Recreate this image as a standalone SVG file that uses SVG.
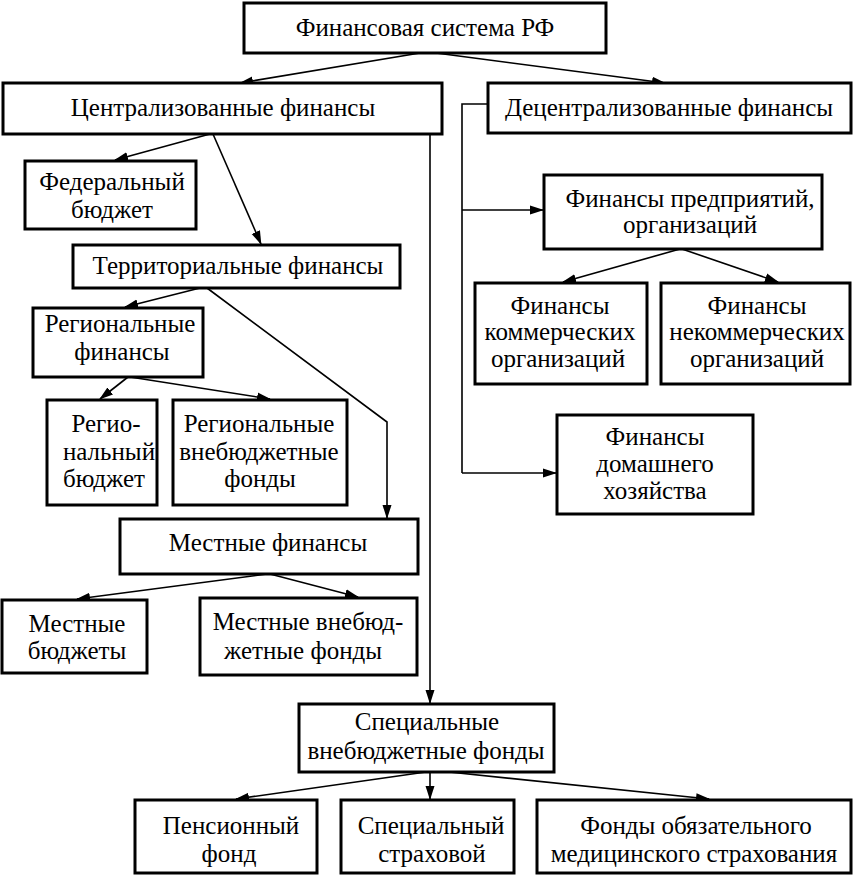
<svg xmlns="http://www.w3.org/2000/svg" width="854" height="876" viewBox="0 0 854 876">
<style>
.box{fill:#fff;stroke:#000;stroke-width:3}
.t{font-family:'Liberation Serif','DejaVu Serif',serif;font-size:25px;fill:#000;text-anchor:middle}
.c{fill:none;stroke:#000;stroke-width:1.6}
</style>
<defs>
<marker id="ah" markerWidth="14" markerHeight="10" refX="13" refY="5" orient="auto" markerUnits="userSpaceOnUse">
<path d="M0,0.5 L14,5 L0,9.5 z" fill="#000"/>
</marker>
</defs>
<rect width="854" height="876" fill="#fff"/>
<g id="connectors">
<line class="c" x1="420" y1="53" x2="240" y2="83" marker-end="url(#ah)"/>
<line class="c" x1="436" y1="53" x2="665" y2="83" marker-end="url(#ah)"/>
<line class="c" x1="430" y1="134" x2="430" y2="703" marker-end="url(#ah)"/>
<polyline class="c" points="488,104 462,104 462,473"/>
<line class="c" x1="462" y1="210" x2="543" y2="210" marker-end="url(#ah)"/>
<line class="c" x1="462" y1="473" x2="556" y2="473" marker-end="url(#ah)"/>
<line class="c" x1="210" y1="134" x2="115" y2="160" marker-end="url(#ah)"/>
<line class="c" x1="213" y1="134" x2="261" y2="244" marker-end="url(#ah)"/>
<line class="c" x1="200" y1="288" x2="125" y2="307" marker-end="url(#ah)"/>
<polyline class="c" points="207,288 387,422 387,518" marker-end="url(#ah)"/>
<line class="c" x1="128" y1="377" x2="100" y2="399" marker-end="url(#ah)"/>
<line class="c" x1="130" y1="377" x2="270" y2="399" marker-end="url(#ah)"/>
<line class="c" x1="267" y1="574" x2="77" y2="599" marker-end="url(#ah)"/>
<line class="c" x1="270" y1="574" x2="358" y2="597" marker-end="url(#ah)"/>
<line class="c" x1="680" y1="249" x2="563" y2="282" marker-end="url(#ah)"/>
<line class="c" x1="682" y1="249" x2="778" y2="282" marker-end="url(#ah)"/>
<line class="c" x1="426" y1="772" x2="236" y2="799" marker-end="url(#ah)"/>
<line class="c" x1="430" y1="772" x2="430" y2="799" marker-end="url(#ah)"/>
<line class="c" x1="449" y1="772" x2="709" y2="799" marker-end="url(#ah)"/>
</g>
<g id="n-top"><rect class="box" x="244" y="3" width="362" height="50"/><text class="t" x="425" y="36">Финансовая система РФ</text></g>
<g id="n-central"><rect class="box" x="3" y="83" width="439" height="51"/><text class="t" x="223" y="116">Централизованные финансы</text></g>
<g id="n-decentral"><rect class="box" x="488" y="83" width="363" height="50"/><text class="t" x="669" y="116">Децентрализованные финансы</text></g>
<g id="n-federal"><rect class="box" x="25" y="161" width="171" height="68"/><text class="t" x="112" y="190">Федеральный</text><text class="t" x="112" y="218">бюджет</text></g>
<g id="n-territorial"><rect class="box" x="73" y="245" width="327" height="43"/><text class="t" x="238" y="274">Территориальные финансы</text></g>
<g id="n-regional"><rect class="box" x="33" y="308" width="170" height="69"/><text class="t" x="120" y="332">Региональные</text><text class="t" x="122" y="360">финансы</text></g>
<g id="n-regbudget"><rect class="box" x="47" y="400" width="110" height="105"/><text class="t" x="106" y="432">Регио-</text><text class="t" x="109" y="460">нальный</text><text class="t" x="104" y="487">бюджет</text></g>
<g id="n-regfunds"><rect class="box" x="173" y="400" width="174" height="105"/><text class="t" x="259" y="432">Региональные</text><text class="t" x="259" y="460">внебюджетные</text><text class="t" x="260" y="487">фонды</text></g>
<g id="n-local"><rect class="box" x="120" y="519" width="298" height="55"/><text class="t" x="268" y="551">Местные финансы</text></g>
<g id="n-localbudget"><rect class="box" x="2" y="600" width="145" height="73"/><text class="t" x="77" y="632">Местные</text><text class="t" x="77" y="659">бюджеты</text></g>
<g id="n-localfunds"><rect class="box" x="200" y="598" width="217" height="77"/><text class="t" x="308" y="630">Местные внебюд-</text><text class="t" x="303" y="659">жетные фонды</text></g>
<g id="n-enterprise"><rect class="box" x="544" y="175" width="278" height="74"/><text class="t" x="690" y="207">Финансы предприятий,</text><text class="t" x="690" y="233">организаций</text></g>
<g id="n-commercial"><rect class="box" x="475" y="283" width="172" height="101"/><text class="t" x="560" y="314">Финансы</text><text class="t" x="560" y="340">коммерческих</text><text class="t" x="558" y="367">организаций</text></g>
<g id="n-noncommercial"><rect class="box" x="661" y="283" width="189" height="101"/><text class="t" x="757" y="314">Финансы</text><text class="t" x="757" y="340">некоммерческих</text><text class="t" x="757" y="367">организаций</text></g>
<g id="n-household"><rect class="box" x="557" y="415" width="196" height="99"/><text class="t" x="655" y="445">Финансы</text><text class="t" x="655" y="472">домашнего</text><text class="t" x="655" y="499">хозяйства</text></g>
<g id="n-special"><rect class="box" x="299" y="704" width="255" height="68"/><text class="t" x="427" y="730">Специальные</text><text class="t" x="426" y="759">внебюджетные фонды</text></g>
<g id="n-pension"><rect class="box" x="135" y="800" width="182" height="73"/><text class="t" x="231" y="834">Пенсионный</text><text class="t" x="229" y="862">фонд</text></g>
<g id="n-insurance"><rect class="box" x="341" y="800" width="173" height="73"/><text class="t" x="431" y="834">Специальный</text><text class="t" x="432" y="862">страховой</text></g>
<g id="n-oms"><rect class="box" x="537" y="800" width="314" height="73"/><text class="t" x="696" y="834">Фонды обязательного</text><text class="t" x="694" y="862">медицинского страхования</text></g>
</svg>
